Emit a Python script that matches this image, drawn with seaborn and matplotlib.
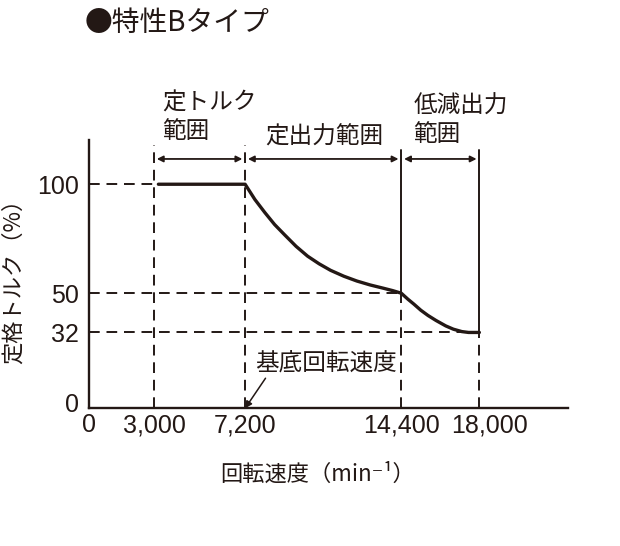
import numpy as np
import pandas as pd
import matplotlib
matplotlib.use("Agg")
import matplotlib.pyplot as plt
import matplotlib.transforms as mtransforms
import seaborn as sns

# ------------------------------------------------------------
# data (speed in min-1, torque in %)
# ------------------------------------------------------------
speed = [3200, 7200, 7650, 8110, 8560, 9020, 9550, 10080, 10610, 11140,
         11750, 12350, 12960, 13570, 14000, 14400,
         14700, 14980, 15300, 15630, 16000, 16450, 16800, 17190, 17500, 18000]
torque = [100, 100, 93.0, 87.0, 81.5, 76.8, 71.5, 67.0, 63.5, 60.5,
          57.8, 55.6, 53.8, 52.3, 51.2, 50,
          47.3, 45.0, 42.2, 39.8, 37.5, 35.0, 33.5, 32.4, 32.0, 32]

x_ticks = [0, 3000, 7200, 14400, 18000]
x_tick_labels = ["0", "3,000", "7,200", "14,400", "18,000"]
y_ticks = [0, 32, 50, 100]
y_tick_labels = ["0", "32", "50", "100"]

# range borders and the torque level reached at each of them
borders = [3000, 7200, 14400, 18000]
border_levels = [100, 100, 50, 32]
range_labels = ["定トルク\n範囲", "定出力範囲", "低減出力\n範囲"]
base_speed = 7200

ink = "#231815"
jp = ["Noto Sans CJK JP", "DejaVu Sans"]

sns.set_theme(style="white")
plt.rcParams["font.family"] = ["Liberation Sans", "Noto Sans CJK JP", "DejaVu Sans"]

fig = plt.figure(figsize=(6.2, 5.46), dpi=100)
ax = fig.add_axes([0.1435, 0.2522, 0.7731, 0.4914])
ax.set_xlim(0, 22100)
ax.set_ylim(-2.8, 120.3)
y0 = ax.get_ylim()[0]

df = pd.DataFrame({"speed": speed, "torque": torque})
sns.lineplot(data=df, x="speed", y="torque", ax=ax, color=ink, lw=2.4,
             sort=False, estimator=None, solid_joinstyle="round")

dash = (0, (5.5, 3.5))
dkw = dict(color=ink, lw=1.4, linestyle=dash)

# horizontal guides from the axis to each border
for b, lev in zip(borders, border_levels):
    if b == 7200:
        continue
    ax.plot([0, b], [lev, lev], **dkw)

# vertical guides
arrow_y = 111.6
top_dash = 118
top_solid = 115.7
for b, lev in zip(borders, border_levels):
    if b in (3000, 7200):
        ax.plot([b, b], [y0, top_dash], **dkw)
    else:
        ax.plot([b, b], [y0, lev], **dkw)
        ax.plot([b, b], [lev, top_solid], color=ink, lw=1.4)

# range arrows
for a, b in zip(borders[:-1], borders[1:]):
    ax.annotate("", xy=(b, arrow_y), xytext=(a, arrow_y),
                arrowprops=dict(arrowstyle="<|-|>", color=ink, lw=1.3,
                                mutation_scale=9, shrinkA=2, shrinkB=2))

# range labels
ax.text(3355, 130.9, range_labels[0], ha="left", va="center", fontsize=17,
        color=ink, family=jp, linespacing=1.3, clip_on=False)
ax.text(10845, 121.5, range_labels[1], ha="center", va="center", fontsize=17,
        color=ink, family=jp, clip_on=False)
ax.text(14968, 129.2, range_labels[2], ha="left", va="center", fontsize=17,
        color=ink, family=jp, linespacing=1.3, clip_on=False)

# base speed note
ax.text(7661, 17.5, "基底回転速度", ha="left", va="center", fontsize=17,
        color=ink, family=jp)
ax.annotate("", xy=(base_speed, y0), xytext=(8140, 11),
            arrowprops=dict(arrowstyle="-|>", color=ink, lw=1.1,
                            mutation_scale=10, shrinkA=0, shrinkB=0))

ax.set_xticks(x_ticks)
ax.set_xticklabels(x_tick_labels)
ax.set_yticks(y_ticks)
ax.set_yticklabels(y_tick_labels)
ax.tick_params(axis="x", direction="in", length=3, width=1.2, colors=ink,
               labelsize=18, pad=3.5)
ax.tick_params(axis="y", length=0, colors=ink, labelsize=18, pad=7)

lab = ax.get_xticklabels()[-1]
lab.set_transform(lab.get_transform() +
                  mtransforms.ScaledTranslation(0.1, 0, fig.dpi_scale_trans))

for s in ["top", "right"]:
    ax.spines[s].set_visible(False)
for s in ["left", "bottom"]:
    ax.spines[s].set_color(ink)
    ax.spines[s].set_linewidth(1.7)

ax.set_xlabel("")
ax.set_ylabel("")
fig.text(317.5 / 620, 1 - 474 / 546, "回転速度（min⁻¹）", ha="center", va="center",
         fontsize=16, color=ink, family=jp)
fig.text(13 / 620, 1 - 276 / 546, "定格トルク（%）", ha="center", va="center",
         rotation=90, fontsize=16, color=ink, family=jp)
fig.text(85 / 620, 1 - 22.5 / 546, "●特性Bタイプ", ha="left", va="center",
         fontsize=20, color=ink, family=jp)

fig.savefig("out.png", dpi=100)
